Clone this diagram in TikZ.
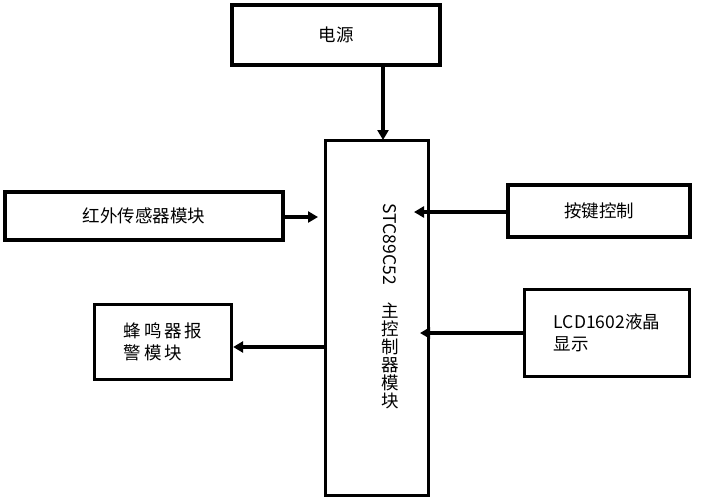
\documentclass[tikz,border=0pt]{standalone}
\usepackage{fontspec}
\setmainfont{Noto Sans CJK SC}
\usetikzlibrary{arrows.meta}
\begin{document}
\begin{tikzpicture}[x=1pt,y=-1pt,
 box/.style={draw,line width=3.2pt,inner sep=0pt},
 lbl/.style={font=\fontsize{17.5}{22}\selectfont},
 arr/.style={line width=3.2pt,-{Triangle[length=10pt,width=11pt]}}]
\useasboundingbox (0,0) rectangle (708,501);
\node[box,minimum width=208,minimum height=60] (pw) at (336,35) {};
\node[lbl] (pwt) at (pw) {电源};
\node[box,minimum width=103,minimum height=355] (mcu) at (377,318) {};
\node[lbl,rotate=-90,anchor=west] (mcut) at (390,200) {STC89C52};
\node[lbl,anchor=north,align=center,inner sep=0pt] (mcuc) at (390,303) {主\\[-4pt]控\\[-4pt]制\\[-4pt]器\\[-4pt]模\\[-4pt]块};
\node[box,minimum width=278,minimum height=48] (ir) at (144,216) {};
\node[lbl] (irt) at (ir) {红外传感器模块};
\node[box,minimum width=182,minimum height=52] (key) at (599,211) {};
\node[lbl] (keyt) at (key) {按键控制};
\node[box,minimum width=165,minimum height=87] (lcd) at (607,333) {};
\node[lbl,align=left] (lcdt) at (607,333) {LCD1602液晶\\显示\hspace{4.2em}};
\node[box,minimum width=137,minimum height=75] (bz) at (163,342) {};
\node[lbl,align=left] (bzt) at (bz) {蜂\,鸣\,器\,报\\警\,模\,块\hspace{1.2em}};
\coordinate (c1) at (383,140);
\coordinate (c2) at (318,217);
\coordinate (c3) at (414,212);
\coordinate (c4) at (420,333);
\coordinate (c5) at (327,347);
\draw[arr] (pw.south -| c1) -- (c1);
\draw[arr] (ir.east |- c2) -- (c2);
\draw[arr] (key.west |- c3) -- (c3);
\draw[arr] (lcd.west |- c4) -- (c4);
\draw[arr] (c5) -- (bz.east |- c5);
\end{tikzpicture}
\end{document}
